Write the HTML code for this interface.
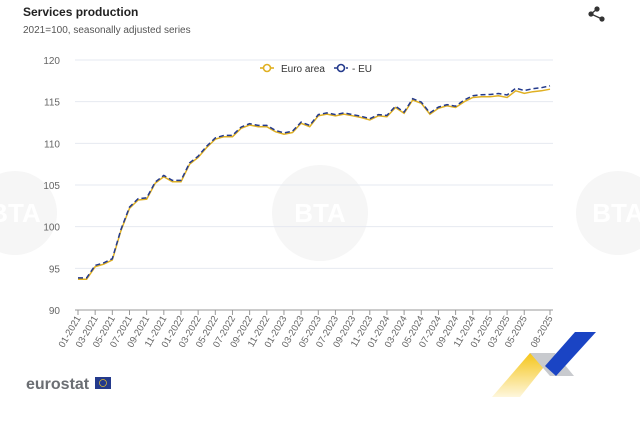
<!DOCTYPE html>
<html><head><meta charset="utf-8"><style>
body{margin:0;background:#fff;width:640px;height:422px;overflow:hidden;font-family:"Liberation Sans",sans-serif}
</style></head><body>
<svg id="s" width="640" height="422" xmlns="http://www.w3.org/2000/svg" font-family="Liberation Sans, sans-serif">
<g fill="#f6f6f6" stroke="none">
<circle cx="15" cy="213" r="42"/><circle cx="320" cy="213" r="48"/><circle cx="618" cy="213" r="42"/>
</g>
<g fill="#fff" font-size="26" font-weight="bold" text-anchor="middle"><text x="320" y="222">BTA</text><text x="15" y="222">BTA</text><text x="618" y="222">BTA</text></g>
<text x="23" y="16" font-size="12" font-weight="bold" fill="#222">Services production</text>
<text x="23" y="33" font-size="10" fill="#555">2021=100, seasonally adjusted series</text>
<g fill="#333" stroke="none"><circle cx="597" cy="9" r="2.6"/><circle cx="602" cy="19" r="2.6"/><circle cx="591" cy="14" r="2.6"/></g>
<path d="M597 9L591 14L602 19" stroke="#333" stroke-width="1.3" fill="none"/>
<g id="grid" stroke="#e6e9f0" stroke-width="1"></g>
<g id="yl" font-size="10" fill="#666" text-anchor="end"></g>
<line x1="75" y1="310" x2="553" y2="310" stroke="#999"/>
<g id="xt" stroke="#999"></g>
<g id="xl" font-size="9.5" fill="#666" text-anchor="end"></g>
<path id="ea" fill="none" stroke="#e0b022" stroke-width="1.5"/>
<path id="eu" fill="none" stroke="#243a8c" stroke-width="1.5" stroke-dasharray="5,3"/>
<g font-size="10" fill="#333">
<line x1="260" y1="68" x2="274" y2="68" stroke="#e0b022" stroke-width="1.6"/><circle cx="267" cy="68" r="3.5" fill="#fff" stroke="#e0b022" stroke-width="1.6"/>
<text x="281" y="72">Euro area</text>
<line x1="334" y1="68" x2="348" y2="68" stroke="#243a8c" stroke-width="1.6" stroke-dasharray="4,2"/><circle cx="341" cy="68" r="3.5" fill="#fff" stroke="#243a8c" stroke-width="1.6"/>
<text x="352" y="72">- EU</text>
</g>
<text x="26" y="389" font-size="16" fill="#6b6e73" font-weight="bold">eurostat</text>
<rect x="95" y="377" width="16" height="12" fill="#243a8c"/>
<circle cx="103" cy="383" r="3.5" fill="none" stroke="#e0c030" stroke-width="0.7"/>
<defs><linearGradient id="yg" x1="0" y1="0" x2="0" y2="1"><stop offset="0" stop-color="#f5c518"/><stop offset="1" stop-color="#f5c518" stop-opacity="0.15"/></linearGradient></defs>
<polygon points="530,353 555,353 520,397 492,397" fill="url(#yg)"/>
<polygon points="530,353 555,353 574,376 550,376" fill="#c8cace"/>
<polygon points="575,332 596,332 556,376 545,366" fill="#1a44c4"/>
</svg>
<script>
const ea=[93.7,93.7,95.2,95.5,96,99.5,102.2,103.2,103.3,105.2,106,105.4,105.4,107.5,108.3,109.5,110.5,110.8,110.8,111.8,112.2,112,112,111.4,111.1,111.3,112.4,112,113.3,113.5,113.3,113.5,113.3,113.1,112.8,113.3,113.2,114.3,113.6,115.2,114.8,113.5,114.2,114.5,114.3,115,115.5,115.6,115.6,115.7,115.5,116.3,116,116.2,116.3,116.5];
const X=i=>78+i*(472/55),Y=v=>310-(v-90)*(250/30);
const ns="http://www.w3.org/2000/svg";
function el(p,t,a,txt){const e=document.createElementNS(ns,t);for(const k in a)e.setAttribute(k,a[k]);if(txt)e.textContent=txt;document.getElementById(p).appendChild(e);}
for(let v=95;v<=120;v+=5)el('grid','line',{x1:75,x2:553,y1:Y(v),y2:Y(v)});
for(let v=90;v<=120;v+=5)el('yl','text',{x:60,y:Y(v)+4},String(v));
const idx=[];for(let i=0;i<54;i+=2)idx.push(i);idx.push(55);
idx.forEach(i=>{el('xt','line',{x1:X(i),x2:X(i),y1:310,y2:315});
const m=(i%12)+1,y=2021+Math.floor(i/12);const x=X(i)+3,yy=318;
el('xl','text',{x:x,y:yy,transform:`rotate(-60 ${x} ${yy})`},(m<10?'0':'')+m+'-'+y);});
let a='',b='';ea.forEach((v,i)=>{const d=i<45?0.15:0.2+(i-45)*0.02;a+=(i?'L':'M')+X(i).toFixed(1)+' '+Y(v).toFixed(1);b+=(i?'L':'M')+X(i).toFixed(1)+' '+Y(v+d).toFixed(1);});
document.getElementById('ea').setAttribute('d',a);document.getElementById('eu').setAttribute('d',b);
</script>
</body></html>
